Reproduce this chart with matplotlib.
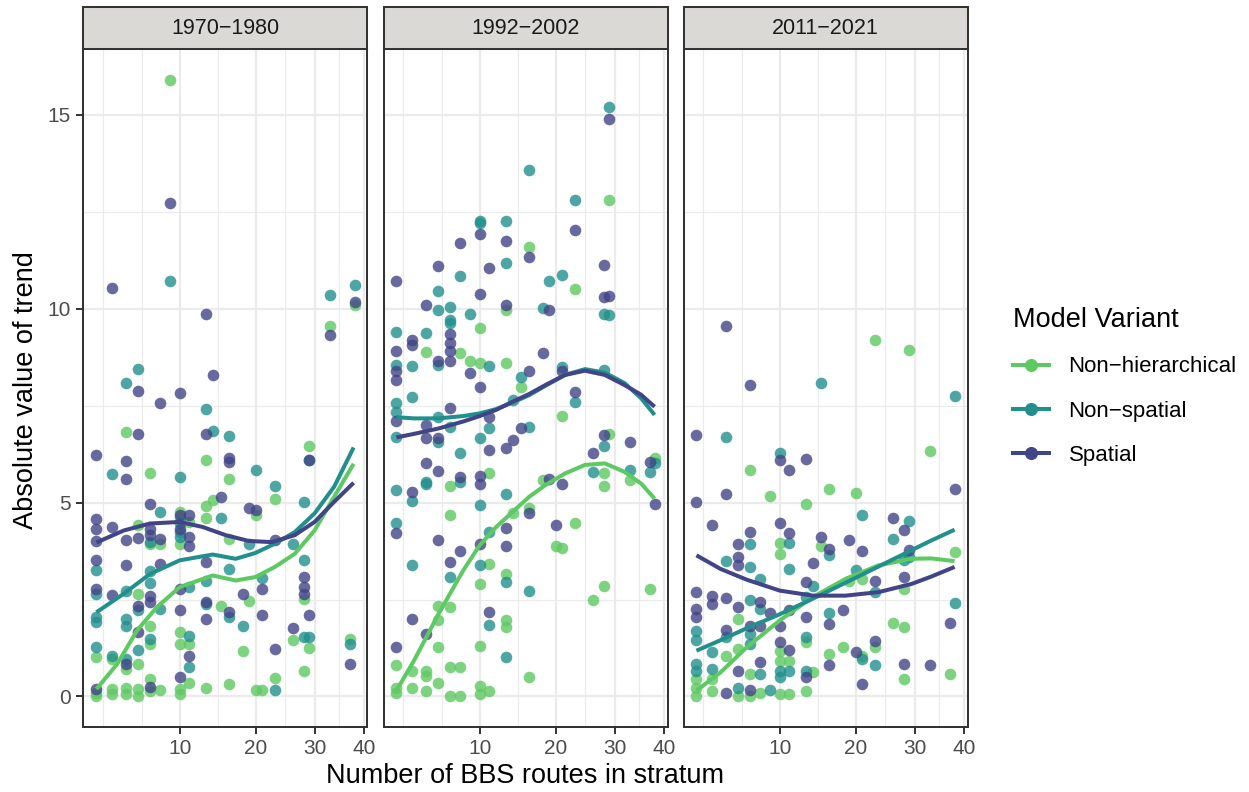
import matplotlib.pyplot as plt
import numpy as np
from matplotlib.lines import Line2D

plt.rcParams['font.family'] = ['Liberation Sans', 'DejaVu Sans']

periods = ['1970\u22121980', '1992\u22122002', '2011\u22122021']
models = ['Non\u2212hierarchical', 'Non\u2212spatial', 'Spatial']
colours = ['#5EC962', '#21908C', '#414487']

# ---- points (x = routes in stratum, y = |trend|) ----
# 1970-1980
p1_nonhier_x = [3,3,3, 4,4,4, 5,5,5,5, 6,6,6,6,6, 7,7,7,7,7,7, 8,8, 9, 10,10,10,10,10,10,10,
                11,11,11, 13,13,13,13, 14, 15, 16,16,16, 18, 19, 20,20, 21, 23,23, 26, 28,28, 29,29, 33, 37, 38]
p1_nonhier_y = [1.03,0.10,0.02, 0.97,0.19,0.06, 6.83,0.71,0.23,0.06, 4.41,2.65,0.84,0.19,0.02,
                5.77,3.94,1.83,1.35,0.45,0.15, 3.94,0.16, 15.9, 4.76,4.59,3.94,1.66,1.35,0.19,0.06,
                4.50,1.35,0.36, 6.09,4.91,4.59,0.23, 5.06, 2.34, 5.60,4.07,0.32, 1.18, 2.47, 4.67,0.16,
                0.16, 5.10,0.47, 1.46, 2.52,0.65, 6.46,1.24, 9.54, 1.48, 10.1]
p1_nonspat_x = [3,3,3,3,3, 4,4, 5,5,5,5,5, 6,6,6, 7,7,7,7, 8,8, 9, 10,10,10,10, 11,11,11,
                13,13,13, 14, 15, 16,16,16, 18, 19, 20, 21, 23,23, 26, 28,28,28, 29,29, 33, 37, 38]
p1_nonspat_y = [3.27,2.63,2.06,1.91,1.27, 5.73,1.05, 8.08,2.73,2.00,1.83,0.97, 8.44,2.22,1.20,
                3.98,3.23,2.93,1.48, 4.76,2.26, 10.72, 5.66,4.48,4.24,4.11, 2.82,1.57,0.75,
                7.41,2.99,2.39, 6.84, 4.59, 6.72,3.28,2.06, 1.81, 3.94, 5.85, 3.05, 5.42,0.16, 3.94,
                5.02,3.53,1.54, 6.10,1.54, 10.35, 1.35, 10.6]
p1_spatial_x = [3,3,3,3,3,3,3, 4,4,4, 5,5,5,5,5, 6,6,6,6,6, 7,7,7,7,7,7, 8,8,8, 9,
                10,10,10,10,10,10, 11,11,11,11, 13,13,13,13,13, 14, 15, 16,16,16, 18, 19, 20,
                21,21, 23,23, 26, 28,28,28, 29,29, 33, 37, 38]
p1_spatial_y = [6.22,4.57,4.31,4.01,3.51,2.76,0.19, 10.53,4.37,2.62, 6.07,5.60,4.03,3.40,0.84,
                7.88,6.78,4.09,2.32,1.66, 4.96,4.33,4.16,2.60,2.43,0.25, 7.56,4.07,3.42, 12.72,
                7.82,4.67,4.33,2.78,2.22,0.49, 4.67,4.11,3.87,1.05, 9.86,6.77,3.47,2.43,2.00,
                8.29, 5.15, 6.14,6.05,2.17, 2.65, 4.87, 4.80, 2.78,2.09, 4.04,1.22, 1.76,
                3.08,2.82,2.65, 6.11,2.09, 9.33, 0.84, 10.18]

# 1992-2002
p2_nonhier_x = [3,3,3, 4,4, 5,5,5,5, 6,6,6,6, 7,7,7,7,7, 8,8,8, 9, 10,10,10,10,10,10,
                11,11,11, 13,13,13,13,13, 14, 15, 16,16,16, 18, 20, 21,21, 23,23, 26,
                28,28,28, 29,29, 33, 37, 38]
p2_nonhier_y = [0.81,0.23,0.10, 0.66,0.23, 8.87,0.66,0.53,0.15, 2.34,1.96,1.27,0.36,
                5.42,4.69,2.30,0.75,0.02, 8.85,0.75,0.02, 8.66, 9.49,8.59,2.89,1.31,0.28,0.06,
                5.75,3.42,0.13, 9.97,8.59,3.16,1.97,1.78, 4.72, 7.97, 11.58,4.86,0.49, 5.58,
                3.87, 7.22,3.84, 10.51,4.46, 2.49, 5.75,5.42,2.84, 12.81,6.76, 5.58, 2.78, 6.14]
p2_nonspat_x = [3,3,3,3,3,3,3, 4,4,4,4, 5,5,5, 6,6,6,6,6, 7,7,7,7,7, 8,8,8, 9,
                10,10,10,10,10, 11,11,11,11, 13,13,13,13,13, 14, 15, 16,16,16, 18, 19,
                21,21, 23,23, 26, 28,28,28, 29,29, 33, 37, 38]
p2_nonspat_y = [9.41,8.55,7.56,7.34,6.70,5.32,4.47, 8.51,7.71,5.04,3.38, 9.36,5.53,5.49,
                10.46,9.97,8.55,7.20,6.57, 10.03,9.71,9.62,6.96,3.08, 10.83,6.27,5.53, 9.86,
                12.27,12.20,6.67,4.93,3.40, 8.53,6.93,4.24,1.84, 12.27,11.17,5.22,2.95,1.01,
                7.65, 8.25, 13.57,6.96,2.72, 10.01, 10.71, 10.87,8.49, 12.81,7.60, 5.79,
                9.86,8.41,6.46, 15.2,9.84, 5.84, 5.79, 6.01]
p2_spatial_x = [3,3,3,3,3,3,3, 4,4,4,4, 5,5,5,5,5, 6,6,6,6,6, 7,7,7,7,7,7, 8,8,8, 9,
                10,10,10,10,10,10, 11,11,11,11, 13,13,13,13,13, 14, 15, 16,16,16, 18, 19,19,
                20, 21,21, 23,23, 26, 28,28,28, 29,29, 33, 37, 38]
p2_spatial_y = [10.71,8.91,8.38,8.15,7.09,4.22,1.27, 9.19,9.07,5.28,2.00, 10.09,7.00,6.67,6.01,1.61,
                11.1,8.64,6.66,5.82,4.03, 9.34,9.11,8.90,8.64,7.43,3.48, 11.7,5.66,3.75, 8.35,
                11.93,10.38,7.97,5.68,5.47,3.94, 11.04,7.20,6.35,2.17, 11.75,10.09,6.40,4.34,3.87,
                6.61, 6.91, 11.34,8.40,4.72, 8.85, 9.97,5.62, 4.43, 8.38,5.49, 12.03,7.84, 6.27,
                11.13,10.31,6.74, 14.89,10.33, 6.55, 6.05, 4.96]

# 2011-2021
p3_nonhier_x = [3,3,3, 4,4, 5, 6,6,6, 7,7,7, 8, 9, 10,10,10,10,10, 11,11, 13,13,13, 14, 15,
                16,16, 18, 19, 20, 21,21, 23,23, 26, 28,28,28, 29, 33, 37, 38]
p3_nonhier_y = [0.45,0.23,0.02, 0.45,0.15, 1.05, 2.00,1.22,0.02, 5.85,0.58,0.02, 0.10, 5.16,
                3.96,3.68,1.18,0.92,0.06, 0.92,0.06, 4.97,1.40,0.15, 0.62, 3.87, 5.36,1.09,
                1.28, 2.99, 5.25, 3.03,1.05, 9.18,1.27, 1.89, 2.78,1.78,0.45, 8.94, 6.33, 0.58, 3.72]
p3_nonspat_x = [3,3,3,3, 4,4, 5,5,5, 6, 7,7,7,7,7, 8,8,8, 9, 10,10,10, 11,11,11, 13,13,13,
                14, 15, 16,16, 20, 21,21, 23,23, 26, 28, 29,29, 38,38]
p3_nonspat_y = [1.70,1.46,0.84,0.66, 1.14,0.71, 6.70,3.49,1.53, 0.23, 3.92,3.34,2.49,1.61,1.35,
                3.03,2.26,0.58, 0.16, 6.28,0.66,0.49, 3.96,3.29,0.66, 2.56,1.54,0.66, 2.86, 8.08,
                3.66,2.15, 3.25, 4.69,0.97, 2.69,0.82, 4.05, 3.51, 4.53,3.59, 7.75,2.41]
p3_spatial_x = [3,3,3,3,3, 4,4,4, 5,5,5,5,5, 6,6,6,6,6, 7,7,7,7, 8,8,8, 9, 10,10,10,10,
                11,11,11,11, 13,13,13,13, 14, 15, 16,16,16, 18, 19, 20, 21,21, 23,23, 26,
                28,28,28, 29, 33, 37, 38]
p3_spatial_y = [6.74,5.02,2.69,2.26,2.04, 4.43,2.60,2.39, 9.56,5.22,2.54,1.72,0.10,
                3.94,3.59,3.38,2.30,0.65, 8.03,4.24,1.83,0.16, 2.43,1.83,0.88, 2.15,
                6.09,4.47,1.83,1.40, 5.84,4.22,2.23,1.20, 6.12,2.95,2.04,0.49, 3.44, 4.11,
                3.81,1.87,0.82, 2.22, 4.04, 1.14, 3.74,0.32, 2.97,1.44, 4.60, 4.30,3.09,0.84,
                3.77, 0.82, 1.89, 5.36]

# ---- smooth curves ----
p1_nonhier_cx = [3, 4.37, 5.9, 7.66, 10, 13.9, 17, 19.9, 23, 26.4, 30, 33.8, 37.8]
p1_nonhier_cy = [0.19, 0.84, 1.70, 2.30, 2.82, 3.12, 2.99, 3.08, 3.34, 3.68, 4.28, 5.15, 6.0]
p1_nonspat_cx = [3, 4.85, 7.04, 10, 13.9, 17, 19.9, 23, 26.4, 30, 33.8, 37.8]
p1_nonspat_cy = [2.17, 2.65, 3.16, 3.51, 3.66, 3.55, 3.70, 3.94, 4.24, 4.72, 5.41, 6.42]
p1_spatial_cx = [3, 4.85, 7.04, 10, 12.65, 15.6, 18.9, 22.5, 26.4, 30, 33.8, 37.8]
p1_spatial_cy = [3.97, 4.28, 4.46, 4.50, 4.37, 4.16, 4.01, 3.98, 4.16, 4.50, 5.02, 5.51]

p2_cx = [3, 4.13, 6.03, 8.29, 10, 11.87, 13.89, 16.1, 18.4, 21.4, 24.7, 28.2, 31.9, 35.2, 38]
p2_nonhier_cy = [0.15, 0.92, 2.13, 3.25, 3.90, 4.37, 4.76, 5.15, 5.45, 5.75, 5.97, 6.01, 5.79, 5.49, 5.10]
p2_nonspat_cy = [7.20, 7.17, 7.17, 7.23, 7.30, 7.41, 7.58, 7.77, 8.01, 8.29, 8.44, 8.35, 8.08, 7.69, 7.26]
p2_spatial_cy = [6.68, 6.77, 6.91, 7.09, 7.23, 7.39, 7.60, 7.80, 8.03, 8.29, 8.40, 8.29, 8.03, 7.78, 7.47]

p3_cx = [3, 4.6, 6.75, 10, 13.9, 18.4, 23.6, 29.4, 33.2, 38]
p3_nonhier_cy = [0.15, 0.62, 1.27, 1.96, 2.56, 3.03, 3.38, 3.55, 3.56, 3.49]
p3_nonspat_cy = [1.18, 1.45, 1.76, 2.12, 2.52, 2.93, 3.35, 3.77, 4.02, 4.30]
p3_spatial_cy = [3.64, 3.29, 3.01, 2.73, 2.60, 2.60, 2.69, 2.90, 3.09, 3.34]

points = [
    [(p1_nonhier_x, p1_nonhier_y), (p1_nonspat_x, p1_nonspat_y), (p1_spatial_x, p1_spatial_y)],
    [(p2_nonhier_x, p2_nonhier_y), (p2_nonspat_x, p2_nonspat_y), (p2_spatial_x, p2_spatial_y)],
    [(p3_nonhier_x, p3_nonhier_y), (p3_nonspat_x, p3_nonspat_y), (p3_spatial_x, p3_spatial_y)],
]
curves = [
    [(p1_nonhier_cx, p1_nonhier_cy), (p1_nonspat_cx, p1_nonspat_cy), (p1_spatial_cx, p1_spatial_cy)],
    [(p2_cx, p2_nonhier_cy), (p2_cx, p2_nonspat_cy), (p2_cx, p2_spatial_cy)],
    [(p3_cx, p3_nonhier_cy), (p3_cx, p3_nonspat_cy), (p3_cx, p3_spatial_cy)],
]

# ggplot-like limits: 5% expansion in (sqrt) transformed space
allx = np.concatenate([np.array(s[0], float) for p in points for s in p])
ally = np.concatenate([np.array(s[1], float) for p in points for s in p])
slo, shi = np.sqrt(allx.min()), np.sqrt(allx.max())
sp = 0.05 * (shi - slo)
xlim = ((slo - sp) ** 2, (shi + sp) ** 2)
yp = 0.05 * (ally.max() - ally.min())
ylim = (ally.min() - yp, ally.max() + yp)

xmajor = np.array([10, 20, 30, 40])
sm = np.sqrt(xmajor)
sb = np.concatenate([[sm[0] - (sm[1] - sm[0])], sm])
xminor = np.concatenate([[sb[0]], (sb[:-1] + sb[1:]) / 2]) ** 2

W, H = 1249, 792
fig = plt.figure(figsize=(W / 100, H / 100), dpi=100)
lefts = [83.5, 383.5, 683.5]
pw = 284
top, bottom, strip_top = 49, 726.5, 7
dark = '#333333'

fwd = lambda v: np.sqrt(np.clip(v, 0, None))
inv = lambda v: np.square(v)

for i, l in enumerate(lefts):
    ax = fig.add_axes([l / W, 1 - bottom / H, pw / W, (bottom - top) / H])
    ax.set_xscale('function', functions=(fwd, inv))
    for j in range(3):
        px, py = points[i][j]
        ax.scatter(px, py, s=70, color=colours[j], alpha=0.8, linewidths=0, zorder=3)
    for j in range(3):
        cx, cy = curves[i][j]
        ax.plot(cx, cy, color=colours[j], lw=2.9, zorder=4, solid_capstyle='butt')
    ax.set_xlim(xlim)
    ax.set_ylim(ylim)
    ax.set_xticks(xmajor)
    ax.set_xticks(xminor, minor=True)
    ax.set_xticklabels([str(v) for v in xmajor])
    ax.set_yticks([0, 5, 10, 15])
    ax.set_yticks([2.5, 7.5, 12.5], minor=True)
    ax.grid(which='major', color='#EBEBEB', lw=1.6)
    ax.grid(which='minor', color='#EBEBEB', lw=0.8)
    ax.set_axisbelow(True)
    ax.tick_params(which='major', length=5, width=1.4, color=dark,
                   labelsize=15, labelcolor='#4D4D4D', pad=4)
    ax.tick_params(which='minor', length=0)
    if i > 0:
        ax.tick_params(axis='y', which='both', length=0, labelleft=False)
    for sp_ in ax.spines.values():
        sp_.set_color(dark)
        sp_.set_linewidth(1.45)

    sax = fig.add_axes([l / W, 1 - top / H, pw / W, (top - strip_top) / H])
    sax.set_facecolor('#DAD9D6')
    sax.set_xticks([])
    sax.set_yticks([])
    for sp_ in sax.spines.values():
        sp_.set_color(dark)
        sp_.set_linewidth(1.45)
    sax.text(0.5, 0.5, periods[i], ha='center', va='center', fontsize=15.5,
             color='#1A1A1A', transform=sax.transAxes)

fig.text(525.5 / W, 1 - 776 / H, 'Number of BBS routes in stratum',
         ha='center', va='center', fontsize=19.5)
fig.text(26 / W, 1 - 390 / H, 'Absolute value of trend', rotation=90,
         ha='center', va='center', fontsize=19.5)

handles = [Line2D([0], [0], color=c, lw=2.9, marker='o', markersize=8.4) for c in colours]
fig.legend(handles, models, loc='upper left', bbox_to_anchor=(1013 / W, 1 - 307 / H),
           frameon=False, title='Model Variant', title_fontsize=19.5, fontsize=16,
           handlelength=1.6, handletextpad=0.9, labelspacing=1.05, alignment='left',
           borderpad=0, borderaxespad=0)

plt.savefig('out.png', dpi=100)
